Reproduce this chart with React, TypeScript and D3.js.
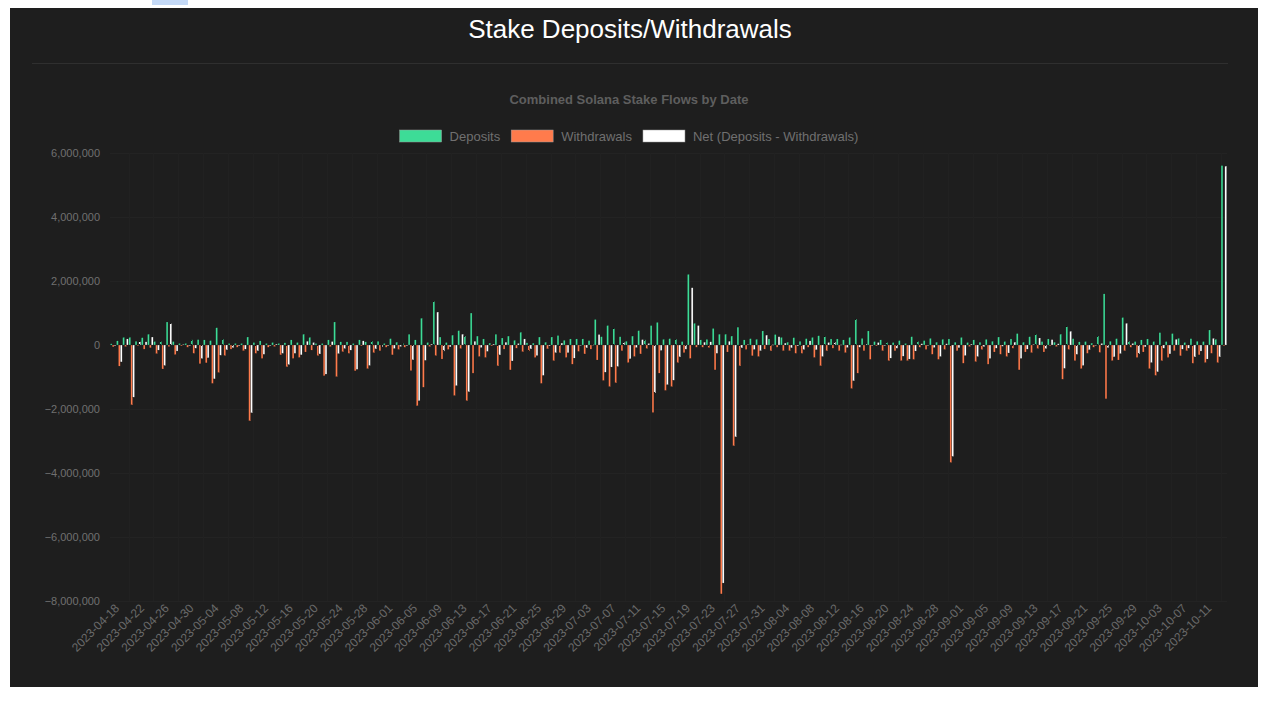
import React, { useEffect, useRef } from 'react';
import * as d3 from 'd3';

// Combined Solana stake flows, one entry per day starting 2023-04-18 (values in millions of SOL)
const START_DAY = '2023-04-18';

const DEPOSITS_M = [
  0.04, 0.13, 0.24, 0.24, 0.12, 0.23, 0.34, 0.11, 0.11, 0.72,
  0.11, 0.05, 0.05, 0.16, 0.17, 0.16, 0.14, 0.54, 0.18, 0.05,
  0.05, 0.05, 0.25, 0.08, 0.13, 0.05, 0.08, 0.05, 0.07, 0.16,
  0.08, 0.34, 0.24, 0.05, 0.05, 0.16, 0.72, 0.10, 0.10, 0.05,
  0.16, 0.10, 0.12, 0.12, 0.05, 0.20, 0.09, 0.05, 0.34, 0.16,
  0.84, 0.08, 1.36, 0.25, 0.08, 0.31, 0.45, 0.28, 1.00, 0.28,
  0.19, 0.06, 0.34, 0.22, 0.28, 0.15, 0.40, 0.07, 0.06, 0.25,
  0.09, 0.25, 0.30, 0.15, 0.19, 0.19, 0.19, 0.14, 0.80, 0.26,
  0.61, 0.51, 0.26, 0.12, 0.28, 0.45, 0.16, 0.61, 0.71, 0.18,
  0.20, 0.18, 0.11, 2.21, 0.68, 0.16, 0.18, 0.52, 0.34, 0.34,
  0.28, 0.56, 0.16, 0.20, 0.18, 0.44, 0.19, 0.33, 0.24, 0.09,
  0.23, 0.12, 0.20, 0.24, 0.29, 0.26, 0.19, 0.19, 0.16, 0.24,
  0.81, 0.21, 0.44, 0.11, 0.16, 0.08, 0.08, 0.14, 0.05, 0.26,
  0.11, 0.14, 0.21, 0.09, 0.18, 0.19, 0.09, 0.24, 0.08, 0.16,
  0.09, 0.18, 0.12, 0.25, 0.11, 0.19, 0.36, 0.09, 0.26, 0.33,
  0.11, 0.19, 0.09, 0.34, 0.57, 0.20, 0.10, 0.11, 0.06, 0.28,
  1.60, 0.12, 0.20, 0.86, 0.12, 0.11, 0.16, 0.19, 0.11, 0.39,
  0.11, 0.36, 0.21, 0.08, 0.20, 0.12, 0.11, 0.47, 0.18, 5.61,
];

const WITHDRAWALS_M = [
  0.06, 0.66, 0.05, 1.87, 0.02, 0.13, 0.09, 0.27, 0.75, 0.05,
  0.30, 0.03, 0.07, 0.26, 0.59, 0.56, 1.20, 0.86, 0.33, 0.13,
  0.07, 0.18, 2.37, 0.26, 0.42, 0.07, 0.05, 0.31, 0.68, 0.42,
  0.39, 0.22, 0.16, 0.33, 0.96, 0.05, 0.99, 0.21, 0.26, 0.81,
  0.03, 0.74, 0.24, 0.18, 0.07, 0.31, 0.14, 0.07, 0.80, 1.90,
  1.32, 0.05, 0.33, 0.44, 0.14, 1.58, 0.11, 1.74, 0.88, 0.36,
  0.39, 0.03, 0.65, 0.13, 0.78, 0.10, 0.21, 0.19, 0.39, 1.20,
  0.12, 0.49, 0.24, 0.39, 0.60, 0.20, 0.28, 0.13, 0.47, 1.11,
  1.30, 1.18, 0.18, 0.55, 0.36, 0.28, 0.11, 2.11, 0.88, 1.42,
  1.30, 0.55, 0.24, 0.42, 0.07, 0.07, 0.08, 0.78, 7.78, 0.22,
  3.15, 0.65, 0.14, 0.34, 0.36, 0.13, 0.18, 0.07, 0.18, 0.18,
  0.26, 0.26, 0.07, 0.39, 0.65, 0.18, 0.10, 0.18, 0.24, 1.36,
  0.88, 0.18, 0.45, 0.03, 0.18, 0.49, 0.18, 0.49, 0.49, 0.45,
  0.07, 0.14, 0.29, 0.45, 0.14, 3.67, 0.18, 0.57, 0.05, 0.52,
  0.14, 0.60, 0.22, 0.29, 0.36, 0.10, 0.78, 0.22, 0.24, 0.11,
  0.22, 0.02, 0.05, 1.07, 0.14, 0.49, 0.74, 0.26, 0.07, 0.23,
  1.68, 0.49, 0.47, 0.18, 0.07, 0.39, 0.22, 0.74, 0.95, 0.49,
  0.39, 0.18, 0.34, 0.18, 0.57, 0.31, 0.55, 0.26, 0.55, 0.02,
];

const Y_TICKS = [6e6, 4e6, 2e6, 0, -2e6, -4e6, -6e6, -8e6];

const SERIES = [
  { key: 'deposits', label: 'Deposits', color: '#3ddc97' },
  { key: 'withdrawals', label: 'Withdrawals', color: '#ff7b4c' },
  { key: 'net', label: 'Net (Deposits - Withdrawals)', color: '#ffffff' },
];

const W = 1284;
const H = 702;

const App: React.FC = () => {
  const svgRef = useRef<SVGSVGElement>(null);

  useEffect(() => {
    if (!svgRef.current) return;
    const svg = d3.select(svgRef.current);
    svg.selectAll('*').remove();

    const parse = d3.utcParse('%Y-%m-%d');
    const fmt = d3.utcFormat('%Y-%m-%d');
    const start = parse(START_DAY)!;
    const dates = DEPOSITS_M.map((_, i) => fmt(d3.utcDay.offset(start, i)));

    const rows = dates.map((date, i) => {
      const dep = DEPOSITS_M[i] * 1e6;
      const wd = -WITHDRAWALS_M[i] * 1e6;
      return { date, deposits: dep, withdrawals: wd, net: dep + wd };
    });

    const margin = { top: 153, right: 57, bottom: 101, left: 110 };

    // page + dark card
    svg.append('rect').attr('width', W).attr('height', H).attr('fill', '#ffffff');
    svg.append('rect').attr('x', 152).attr('y', 0).attr('width', 36).attr('height', 5).attr('fill', '#c4d9f6');
    svg.append('rect').attr('x', 10).attr('y', 8).attr('width', 1248).attr('height', 679).attr('fill', '#1e1e1e');

    svg.append('text')
      .attr('x', 630).attr('y', 38)
      .attr('text-anchor', 'middle')
      .attr('fill', '#ffffff')
      .attr('font-size', '26px')
      .text('Stake Deposits/Withdrawals');

    svg.append('line')
      .attr('x1', 32).attr('x2', 1228)
      .attr('y1', 63.5).attr('y2', 63.5)
      .attr('stroke', '#2f2f2f');

    svg.append('text')
      .attr('x', 629).attr('y', 104)
      .attr('text-anchor', 'middle')
      .attr('fill', '#5e5e5e')
      .attr('font-size', '13px')
      .attr('font-weight', 'bold')
      .text('Combined Solana Stake Flows by Date');

    const x = d3.scaleBand<string>()
      .domain(dates)
      .range([margin.left, W - margin.right])
      .padding(0);

    const y = d3.scaleLinear()
      .domain([-8e6, 6e6])
      .range([H - margin.bottom, margin.top]);

    const groupW = x.bandwidth() * 0.92;
    const sub = d3.scaleBand<string>()
      .domain(SERIES.map(s => s.key))
      .range([0, groupW])
      .paddingInner(0);

    // Grid
    const grid = svg.append('g').attr('stroke-width', 1);
    Y_TICKS.forEach(t => {
      grid.append('line')
        .attr('x1', margin.left).attr('x2', W - margin.right)
        .attr('y1', Math.round(y(t)) + 0.5).attr('y2', Math.round(y(t)) + 0.5)
        .attr('stroke', '#232323');
    });
    dates.forEach((d, i) => {
      if (i % 4 !== 3) return;
      const gx = Math.round(x(d)!) + 0.5;
      grid.append('line')
        .attr('x1', gx).attr('x2', gx)
        .attr('y1', margin.top).attr('y2', H - margin.bottom)
        .attr('stroke', '#212121');
    });

    // Y axis labels
    svg.append('g')
      .selectAll('text')
      .data(Y_TICKS)
      .join('text')
      .attr('x', 100)
      .attr('y', d => y(d))
      .attr('dy', '0.35em')
      .attr('text-anchor', 'end')
      .attr('fill', '#707070')
      .attr('font-size', '11px')
      .text(d => d3.format(',')(d));

    // X axis labels (every 4th day)
    svg.append('g')
      .selectAll('text')
      .data(dates.filter((_, i) => i % 4 === 0))
      .join('text')
      .attr('transform', d => `translate(${x(d)! + x.bandwidth() / 2 + 4}, ${H - margin.bottom + 5}) rotate(-45)`)
      .attr('text-anchor', 'end')
      .attr('dy', '0.35em')
      .attr('fill', '#6a6a6a')
      .attr('font-size', '12px')
      .text(d => d);

    // Bars
    const bars = svg.append('g');
    rows.forEach(r => {
      const gx = x(r.date)! + (x.bandwidth() - groupW) / 2;
      SERIES.forEach(s => {
        const v = (r as any)[s.key] as number;
        const y0 = y(Math.max(0, v));
        const y1 = y(Math.min(0, v));
        bars.append('rect')
          .attr('x', gx + sub(s.key)!)
          .attr('y', y0)
          .attr('width', sub.bandwidth())
          .attr('height', Math.max(0.5, y1 - y0))
          .attr('fill', s.color)
          .attr('stroke', '#111111')
          .attr('stroke-width', 0.25);
      });
    });

    // Legend
    const legend = svg.append('g');
    const items: { g: any; w: number }[] = [];
    SERIES.forEach(s => {
      const g = legend.append('g');
      g.append('rect')
        .attr('x', 0).attr('y', 0)
        .attr('width', 42).attr('height', 12)
        .attr('fill', s.color)
        .attr('stroke', '#9a9a9a')
        .attr('stroke-width', 0.5);
      const t = g.append('text')
        .attr('x', 50).attr('y', 6)
        .attr('dy', '0.35em')
        .attr('fill', '#707070')
        .attr('font-size', '13px')
        .text(s.label);
      const tw = (t.node() as SVGTextElement).getComputedTextLength();
      items.push({ g, w: 50 + tw });
    });
    const gap = 11;
    const total = d3.sum(items, d => d.w) + gap * (items.length - 1);
    let cx = 629 - total / 2;
    items.forEach(it => {
      it.g.attr('transform', `translate(${cx}, 130)`);
      cx += it.w + gap;
    });
  }, []);

  return (
    <div style={{ position: 'fixed', left: 0, top: 0, width: W, height: H }}>
      <svg ref={svgRef} width={W} height={H} style={{ display: 'block', fontFamily: '"Liberation Sans", Arial, sans-serif' }} />
    </div>
  );
};

export default App;
